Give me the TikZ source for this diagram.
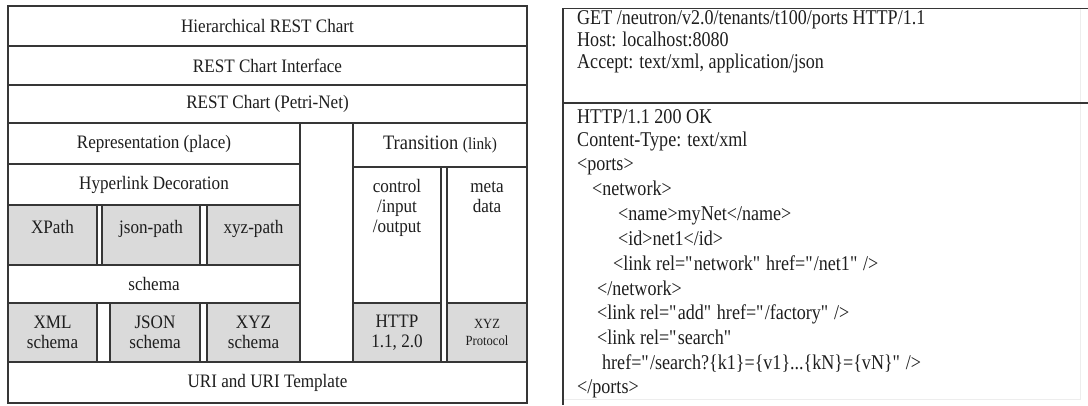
\documentclass[tikz,border=0pt]{standalone}
\usepackage{fontspec}
\setmainfont{Liberation Serif}
\newfontfamily\stackfont{Liberation Serif}[FakeStretch=0.9]
\newfontfamily\codefont{Liberation Serif}[FakeStretch=0.86]
\newcommand\dq{\textquotedbl}
\definecolor{rule}{HTML}{363636}
\definecolor{shade}{HTML}{DADADA}
\definecolor{ink}{HTML}{1E1E1E}
\definecolor{faint}{HTML}{EDEDED}
% \layer[options]{name}{x1}{y1}{x2}{y2}{text}: one framed block of the stack
\newcommand\layer[7][]{%
  \node[cell,#1,minimum width={#5-#3},minimum height={#6-#4}]
    (#2) at ({(#3+#5)/2},{(#4+#6)/2}) {#7};}
\begin{document}
\begin{tikzpicture}[x=1pt,y=-1pt,
  cell/.style={draw=rule,line width=1.2pt,inner sep=0pt,outer sep=0pt,
    align=center,text=ink,font=\stackfont\fontsize{19}{20}\selectfont},
  gray cell/.style={fill=shade},
  lab/.style={inner sep=0pt,anchor=base,text=ink,font=\stackfont\fontsize{19}{20}\selectfont},
  code/.style={inner sep=0pt,anchor=base west,text=ink,font=\codefont\fontsize{21}{24}\selectfont},
  frame/.style={draw=rule,line width=1.2pt},
  ghost/.style={draw=faint,line width=1pt}]
\useasboundingbox (0,0) rectangle (1088,405);
\fill[white] (0,0) rectangle (1088,405);

% ---- layered architecture stack ----
\layer{hier}{8}{6}{527}{46}{Hierarchical REST Chart}
\layer{iface}{8}{46}{527}{85}{REST Chart Interface}
\layer{petri}{8}{85}{527}{123}{REST Chart (Petri-Net)}
\layer{repr}{8}{123}{300}{164}{Representation (place)}
\layer{hyper}{8}{164}{300}{205}{Hyperlink Decoration}
\layer[gray cell]{xpath}{8}{205}{97}{265}{}
\layer[gray cell]{jpath}{102}{205}{200}{265}{}
\layer[gray cell]{zpath}{207}{205}{300}{265}{}
\layer{schema}{8}{265}{300}{303}{schema}
\layer[gray cell]{xmls}{8}{303}{97}{362}{XML\\schema}
\layer[gray cell]{jsons}{110}{303}{200}{362}{JSON\\schema}
\layer[gray cell]{xyzs}{207}{303}{300}{362}{XYZ\\schema}
\layer{spacer}{300}{123}{353}{362}{}
\layer{trans}{353}{123}{527}{167}{\fontsize{20.5}{20}\selectfont Transition \fontsize{17}{20}\selectfont(link)}
\layer{ctrl}{353}{167}{441}{303}{}
\layer{meta}{447}{167}{527}{303}{}
\layer[gray cell]{http}{353}{303}{441}{362}{HTTP\\1.1, 2.0}
\layer[gray cell,font=\stackfont\fontsize{14}{17}\selectfont]{xyzp}{447}{303}{527}{362}{XYZ\\Protocol}
\layer{uri}{8}{362}{527}{403}{URI and URI Template}

% labels sitting at the top of their blocks
\node[lab] (xpath-t) at (xpath.north |- 0,233) {XPath};
\node[lab] (jpath-t) at (jpath.north |- 0,233) {json-path};
\node[lab] (zpath-t) at (zpath.north |- 0,233) {xyz-path};
\node[lab] (ctrl-a) at (ctrl.north |- 0,192) {control};
\node[lab] (ctrl-b) at (ctrl.north |- 0,212) {/input};
\node[lab] (ctrl-c) at (ctrl.north |- 0,232) {/output};
\node[lab] (meta-a) at (meta.north |- 0,192) {meta};
\node[lab] (meta-b) at (meta.north |- 0,212) {data};

% ---- request / response listing ----
\coordinate (box-tl) at (563,8.5);
\coordinate (box-tr) at (1088,8.5);
\coordinate (box-ml) at (563,103);
\coordinate (box-mr) at (1088,103);
\coordinate (box-bl) at (563,405);
\draw[ghost] (1080,8.5) -- (1080,399) -- (563,399);
\draw[frame] (box-tr) -- (box-tl) -- (box-bl);
\draw[frame] (box-ml) -- (box-mr);

\node[code] (req1) at (577,24) {GET /neutron/v2.0/tenants/t100/ports HTTP/1.1};
\node[code] (req2) at (577,46) {Host: localhost:8080};
\node[code] (req3) at (577,68) {Accept: text/xml, application/json};

\node[code] (res1)  at (577,123) {HTTP/1.1 200 OK};
\node[code] (res2)  at (577,146) {Content-Type: text/xml};
\node[code] (res3)  at (577,170) {<ports>};
\node[code] (res4)  at (592,195) {<network>};
\node[code] (res5)  at (618,220) {<name>myNet</name>};
\node[code] (res6)  at (618,245) {<id>net1</id>};
\node[code] (res7)  at (613,270) {<link rel=\dq network\dq{} href=\dq/net1\dq{} />};
\node[code] (res8)  at (597,295) {</network>};
\node[code] (res9)  at (597,319) {<link rel=\dq add\dq{} href=\dq/factory\dq{} />};
\node[code] (res10) at (597,344) {<link rel=\dq search\dq};
\node[code] (res11) at (602,369) {href=\dq/search?\{k1\}=\{v1\}...\{kN\}=\{vN\}\dq{} />};
\node[code] (res12) at (577,393) {</ports>};
\end{tikzpicture}
\end{document}
